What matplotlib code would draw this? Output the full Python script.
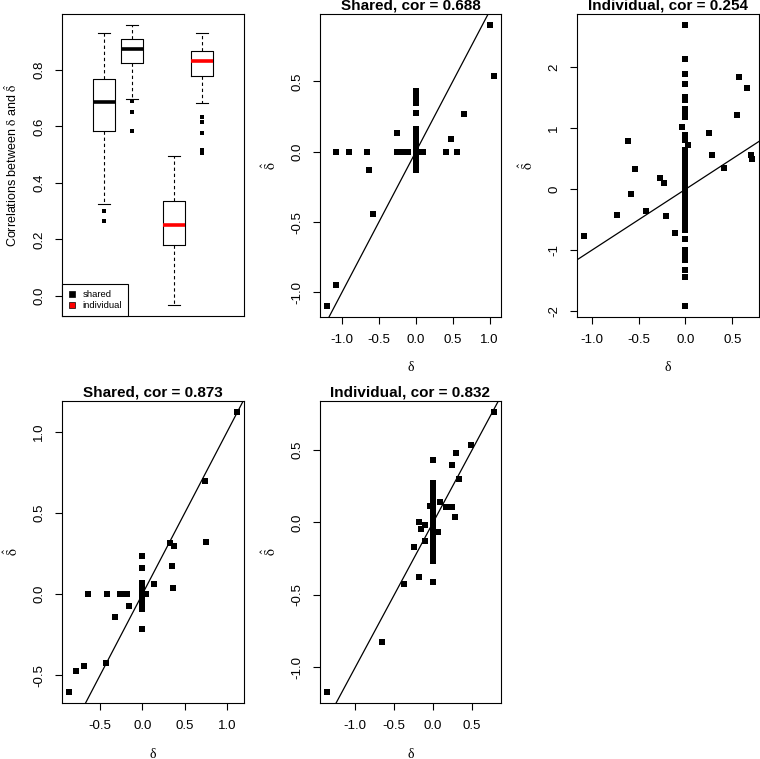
import matplotlib
matplotlib.use('Agg')
import matplotlib.pyplot as plt
from matplotlib.ticker import MultipleLocator, FormatStrFormatter
from matplotlib.lines import Line2D

plt.rcParams['font.family'] = ['Liberation Sans', 'DejaVu Sans']
plt.rcParams['mathtext.fontset'] = 'stix'

# ---- box plot summary (correlations between delta and delta-hat) ----
box_labels = ['shared', 'shared', 'individual', 'individual']
box_positions = [1, 2, 3.5, 4.5]
box_whislo = [0.327, 0.698, -0.033, 0.682]
box_q1 = [0.583, 0.826, 0.182, 0.778]
box_med = [0.687, 0.873, 0.252, 0.833]
box_q3 = [0.768, 0.908, 0.337, 0.866]
box_whishi = [0.930, 0.960, 0.496, 0.930]
box_fliers = [[0.302, 0.267],
              [0.690, 0.651, 0.585],
              [],
              [0.635, 0.614, 0.576, 0.517, 0.505]]
box_med_colors = ['black', 'black', 'red', 'red']

# ---- scatter 1: Shared, cor = 0.688 ----
s1_x = [1.0, 1.063, 0.65, 0.471, 0.413, 0.56, -0.26, -1.085, -0.90, -0.66, -0.632,
        -0.578, -1.085, -1.206,
        -0.26, -0.23, -0.20, -0.17, -0.14, -0.11, 0.04, 0.07, 0.10,
        0.0, 0.0, 0.0, 0.0, 0.0, 0.0,
        0.0, 0.0, 0.0, 0.0, 0.0, 0.0, 0.0, 0.0, 0.0, 0.0, 0.0, 0.0]
s1_y = [0.90, 0.540, 0.270, 0.088, 0.0, 0.0, 0.133, 0.0, 0.0, 0.0, -0.128,
        -0.441, -0.950, -1.095,
        0.0, 0.0, 0.0, 0.0, 0.0, 0.0, 0.0, 0.0, 0.0,
        0.43, 0.41, 0.39, 0.37, 0.35, 0.277,
        0.16, 0.13, 0.10, 0.08, 0.05, 0.03, 0.0, -0.02, -0.05, -0.08, -0.11, -0.13]

# ---- scatter 2: Individual, cor = 0.254 ----
s2_x = [0.574, 0.652, 0.553, 0.255, 0.284, 0.702, 0.713, 0.408, -0.613, -0.539,
        -0.582, -0.73, -0.426, -0.273, -0.23, -0.206, -0.11, -1.085, -0.04, 0.025,
        0.0, 0.0, 0.0, 0.0, 0.0, 0.0, 0.0, 0.0, 0.0, 0.0, 0.0, 0.0, 0.0, 0.0, 0.0,
        0.0, 0.0, 0.0, 0.0, 0.0,
        0.0, 0.0, 0.0, 0.0, 0.0, 0.0, 0.0, 0.0, 0.0, 0.0, 0.0, 0.0, 0.0, 0.0, 0.0,
        0.0, 0.0, 0.0, 0.0, 0.0, 0.0, 0.0, 0.0, 0.0, 0.0, 0.0, 0.0, 0.0, 0.0, 0.0,
        0.0, 0.0, 0.0, 0.0, 0.0, 0.0, 0.0, 0.0, 0.0, 0.0, 0.0, 0.0, 0.0]
s2_y = [1.84, 1.66, 1.22, 0.92, 0.57, 0.57, 0.50, 0.355, 0.79, 0.33,
        -0.08, -0.42, -0.355, 0.18, 0.104, -0.44, -0.71, -0.77, 1.02, 0.73,
        2.69, 2.14, 1.89, 1.72, 1.51, 1.46, 1.32, 1.27, 1.19, 0.885, 0.80,
        -0.67, -0.81, -1.0, -1.08, -1.16, -1.33, -1.43, -1.91, 0.09,
        0.64, 0.61, 0.58, 0.55, 0.52, 0.49, 0.46, 0.43, 0.40, 0.37, 0.34, 0.31,
        0.28, 0.25, 0.22, 0.19, 0.16, 0.13, 0.10, 0.07, 0.04, 0.01, -0.02, -0.05,
        -0.08, -0.11, -0.14, -0.17, -0.20, -0.23, -0.26, -0.29, -0.32, -0.35,
        -0.38, -0.41, -0.44, -0.47, -0.50, -0.53, -0.56, -0.59, -0.62]

# ---- scatter 3: Shared, cor = 0.873 ----
s3_x = [1.122, 0.74, 0.748, 0.331, 0.37, 0.346, 0.362, 0.138, 0.043,
        -0.157, -0.18, -0.228, -0.26, -0.417, -0.638, -0.319, -0.433, -0.693,
        -0.79, -0.87,
        0.0, 0.0, 0.0, 0.0, 0.0, 0.0, 0.0, 0.0, 0.0, 0.0, 0.0, 0.0, 0.0]
s3_y = [1.123, 0.70, 0.324, 0.316, 0.297, 0.172, 0.041, 0.066, 0.0,
        -0.072, 0.0, 0.0, 0.0, 0.0, 0.0, -0.141, -0.424, -0.443,
        -0.473, -0.602,
        0.238, 0.162, 0.07, 0.05, 0.03, 0.01, 0.0, -0.01, -0.03, -0.05, -0.07,
        -0.09, -0.217]

# ---- scatter 4: Individual, cor = 0.832 ----
s4_x = [0.786, 0.487, 0.295, 0.248, 0.333, 0.094, 0.167, 0.244, 0.282, 0.06,
        -0.04, -0.18, -0.162, -0.107, -0.111, -0.248, -0.18, -0.372, -0.662,
        -1.368,
        0.0, 0.0, 0.0, 0.0, 0.0, 0.0, 0.0, 0.0, 0.0, 0.0, 0.0, 0.0, 0.0, 0.0,
        0.0, 0.0, 0.0, 0.0, 0.0, 0.0, 0.0, 0.0, 0.0]
s4_y = [0.761, 0.537, 0.482, 0.394, 0.298, 0.138, 0.103, 0.103, 0.034, -0.069,
        0.115, 0.0, -0.048, -0.016, -0.126, -0.172, -0.378, -0.424, -0.826,
        -1.17,
        0.429, 0.27, 0.25, 0.22, 0.19, 0.17, 0.14, 0.11, 0.08, 0.06, 0.03, 0.0,
        -0.03, -0.06, -0.08, -0.11, -0.14, -0.17, -0.20, -0.22, -0.25, -0.27,
        -0.413]

scatter_titles = ['Shared, cor = 0.688', 'Individual, cor = 0.254',
                  'Shared, cor = 0.873', 'Individual, cor = 0.832']

W, H = 760, 759
fig = plt.figure(figsize=(W / 100, H / 100), dpi=100)


def px_axes(left, top, right, bottom):
    return fig.add_axes([left / W, 1 - bottom / H, (right - left) / W,
                         (bottom - top) / H])


def style_axes(ax):
    for sp in ax.spines.values():
        sp.set_linewidth(0.8)
    ax.tick_params(direction='out', length=5, width=0.8, labelsize=9.5, pad=7)
    ax.tick_params(axis='y', labelrotation=90)
    for lab in ax.get_yticklabels():
        lab.set_va('center')


# ---- panel 1: box plot ----
ax1 = px_axes(62, 14, 244, 316)
stats = []
for i in range(4):
    stats.append(dict(med=box_med[i], q1=box_q1[i], q3=box_q3[i],
                      whislo=box_whislo[i], whishi=box_whishi[i],
                      fliers=box_fliers[i]))
bp = ax1.bxp(stats, positions=box_positions, widths=0.8, capwidths=0.4,
             boxprops=dict(linewidth=0.8, color='black'),
             whiskerprops=dict(linewidth=0.8, linestyle=(0, (3, 2.5)), color='black'),
             capprops=dict(linewidth=0.8, color='black'),
             medianprops=dict(linewidth=2.6, solid_capstyle='butt'),
             flierprops=dict(marker='s', markersize=3, markerfacecolor='black',
                             markeredgewidth=0, linestyle='none'),
             manage_ticks=False)
for med, c in zip(bp['medians'], box_med_colors):
    med.set_color(c)
ax1.set_xlim(-0.5, 6.0)
ax1.set_ylim(-0.071, 0.998)
ax1.set_xticks([])
ax1.yaxis.set_major_locator(MultipleLocator(0.2))
ax1.yaxis.set_major_formatter(FormatStrFormatter('%.1f'))
style_axes(ax1)
ax1.set_ylabel(r'Correlations between $\mathrm{\delta}$ and $\hat{\mathrm{\delta}}$',
               fontsize=9)
ax1.yaxis.set_label_coords(-50 / 182, 0.5)
ax1.yaxis.label.set_va('center')
handles = [Line2D([], [], marker='s', linestyle='none', markersize=5,
                  markerfacecolor=c, markeredgecolor='black', markeredgewidth=0.5)
           for c in ['black', 'red']]
leg = ax1.legend(handles, ['shared', 'individual'], loc='lower left',
                 borderaxespad=0, fontsize=6.8, fancybox=False, framealpha=1,
                 edgecolor='black', handlelength=1.0, handletextpad=0.6,
                 borderpad=0.6, labelspacing=0.25)
leg.get_frame().set_linewidth(0.8)

# ---- scatter panels ----
panels = [
    (px_axes(320, 14, 501, 317), s1_x, s1_y, 0.5, 0.5),
    (px_axes(577, 14, 759, 317), s2_x, s2_y, 0.5, 1.0),
    (px_axes(62, 401, 244, 703), s3_x, s3_y, 0.5, 0.5),
    (px_axes(320, 401, 501, 703), s4_x, s4_y, 0.5, 0.5),
]
for (ax, xs, ys, xstep, ystep), title in zip(panels, scatter_titles):
    ax.plot(xs, ys, 's', color='black', markersize=4.3, markeredgewidth=0)
    ax.margins(0.04)
    ax.axline((0, 0), slope=1, color='black', linewidth=0.9)
    ax.xaxis.set_major_locator(MultipleLocator(xstep))
    ax.yaxis.set_major_locator(MultipleLocator(ystep))
    ax.xaxis.set_major_formatter(FormatStrFormatter('%.1f'))
    if ystep == 1.0:
        ax.yaxis.set_major_formatter(FormatStrFormatter('%d'))
    else:
        ax.yaxis.set_major_formatter(FormatStrFormatter('%.1f'))
    style_axes(ax)
    ax.set_title(title, fontsize=11, fontweight='bold', pad=3)
    ax.set_xlabel('δ', fontsize=10, family='Liberation Serif')
    ax.set_ylabel(r'$\hat{\mathrm{\delta}}$', fontsize=10)
    w = ax.get_position().width * W
    h = ax.get_position().height * H
    ax.xaxis.set_label_coords(0.5, -51 / h)
    ax.xaxis.label.set_va('center')
    ax.yaxis.set_label_coords(-50 / w, 0.5)
    ax.yaxis.label.set_va('center')

fig.savefig('out.png', dpi=100, facecolor='white')
